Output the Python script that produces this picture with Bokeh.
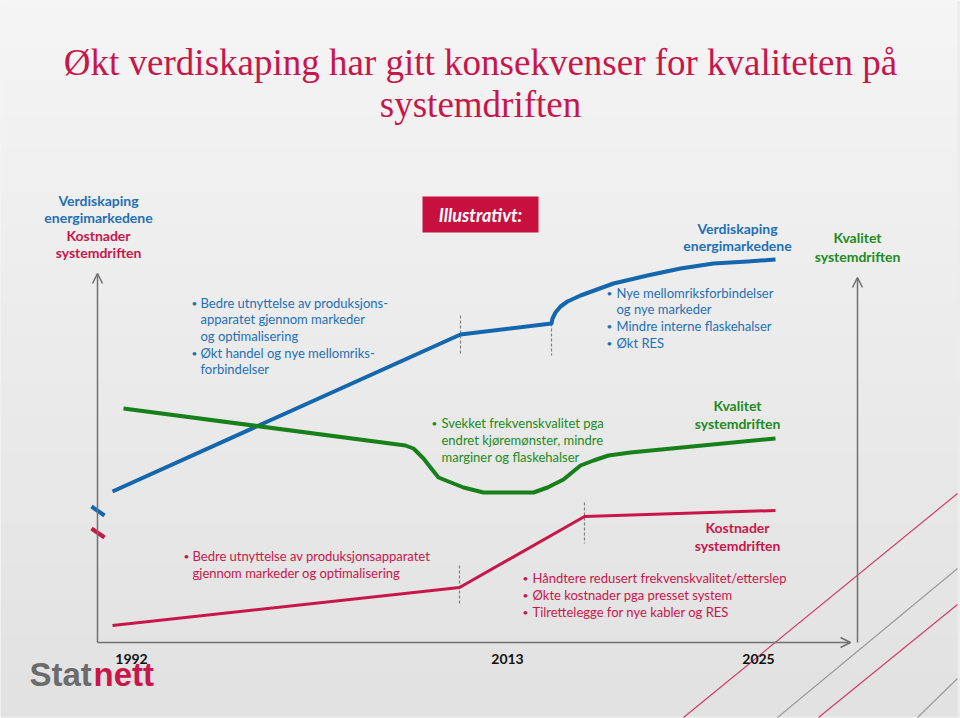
import numpy as np
from bokeh.plotting import figure
from bokeh.models import Range1d, Arrow, OpenHead
from bokeh.core.properties import value
from bokeh.embed import file_html
from bokeh.resources import INLINE

# ---- schematic series (chart units: x to the right, y downward) ----
verdiskaping_x = [112, 460, 551, 552, 555, 560, 567, 580, 613, 647, 680, 713, 747, 775]
verdiskaping_y = [491, 334, 323, 318, 312, 306, 301, 295, 283, 275, 268, 263, 261, 259]
kvalitet_x = [123, 405, 413, 423, 430, 438, 463, 483, 533, 547, 557, 563, 580, 593, 608, 630, 775]
kvalitet_y = [408, 445, 448, 458, 467, 477, 487, 492, 492, 487, 482, 479, 465, 460, 455, 452, 438]
kostnader_x = [112, 459, 584, 775]
kostnader_y = [625, 587, 516, 510]
year_labels = ["1992", "2013", "2025"]
year_x = [131, 507, 758]

BLUE_T = "#1f6fb5"
BLUE_L = "#1467ad"
GREEN_T = "#218a21"
GREEN_L = "#17801a"
RED = "#c8164a"
GRAY = "#707070"

p = figure(width=960, height=718, x_range=Range1d(0, 960), y_range=Range1d(718, 0),
           output_backend="svg", toolbar_location=None,
           x_axis_location=None, y_axis_location=None, min_border=0)
p.grid.visible = False
p.outline_line_color = None
p.background_fill_color = "#ececec"
p.border_fill_color = "#ffffff"

# background gradient
rows = 100
g = np.linspace(0xf5, 0xe2, rows).astype(np.uint32)
img = np.zeros((rows, 1), dtype=np.uint32)
img[:, 0] = (0xff << 24) | (g << 16) | (g << 8) | g
p.image_rgba(image=[img], x=0, y=0, dw=957, dh=716)

# decorative diagonal lines
p.segment(x0=[683, 818], y0=[717, 717], x1=[957, 957], y1=[493, 604], line_color=RED, line_width=1.2, line_alpha=0.8)
p.segment(x0=[777, 917], y0=[717, 717], x1=[957, 957], y1=[568, 678], line_color="#8a8a8a", line_width=1.2, line_alpha=0.8)


def txt(xs, ys, texts, color, size, style="normal", align="left", font="Lato", baseline="middle"):
    p.text(x=xs, y=ys, text=texts, text_color=color, text_font=value(font),
           text_font_size=f"{size}px", text_font_style=style,
           text_align=align, text_baseline=baseline)


# title
txt([480, 480], [62, 104], ["Økt verdiskaping har gitt konsekvenser for kvaliteten på", "systemdriften"],
    RED, 37, align="center", font="Liberation Serif", baseline="alphabetic")

# axes
hd = dict(size=10, line_color=GRAY, line_width=1.5)
p.add_layout(Arrow(end=OpenHead(**hd), x_start=97, y_start=642, x_end=97, y_end=273, line_color=GRAY, line_width=1.5))
p.add_layout(Arrow(end=OpenHead(**hd), x_start=97, y_start=642, x_end=850, y_end=642, line_color=GRAY, line_width=1.5))
p.add_layout(Arrow(end=OpenHead(**hd), x_start=857, y_start=642, x_end=857, y_end=277, line_color=GRAY, line_width=1.5))

# axis break marks
p.segment(x0=[91], y0=[506], x1=[104], y1=[515], line_color=BLUE_L, line_width=4)
p.segment(x0=[91], y0=[528], x1=[104], y1=[537], line_color=RED, line_width=4)

# dashed phase markers
p.segment(x0=[460, 551, 584, 459], y0=[315, 323, 502, 565], x1=[460, 551, 584, 459], y1=[355, 355, 543, 605],
          line_color="#808080", line_width=1.2, line_dash="3 2")

# series
p.line(verdiskaping_x, verdiskaping_y, line_color=BLUE_L, line_width=4, line_join="round")
p.line(kvalitet_x, kvalitet_y, line_color=GREEN_L, line_width=4, line_join="round")
p.line(kostnader_x, kostnader_y, line_color=RED, line_width=3, line_join="round")

# Illustrativt box
p.quad(left=[422], right=[538], top=[196], bottom=[232], fill_color="#c8103e", line_color=None)
txt([480], [214], ["Illustrativt:"], "#ffffff", 18, style="bold italic", align="center")

# axis titles
txt([98, 98], [200, 217], ["Verdiskaping", "energimarkedene"], BLUE_T, 14, "bold", "center")
txt([98, 98], [235, 252], ["Kostnader", "systemdriften"], RED, 14, "bold", "center")
txt([737, 737], [228, 245], ["Verdiskaping", "energimarkedene"], BLUE_T, 14, "bold", "center")
txt([857, 857], [237, 256], ["Kvalitet", "systemdriften"], GREEN_T, 14, "bold", "center")
txt([737, 737], [405, 423], ["Kvalitet", "systemdriften"], GREEN_T, 14, "bold", "center")
txt([737, 737], [527, 545], ["Kostnader", "systemdriften"], RED, 14, "bold", "center")

# bullets
def bullets(bx, tx, ys, lines, bullet_rows, color):
    txt([bx] * len(bullet_rows), [ys[i] for i in bullet_rows], ["•"] * len(bullet_rows), color, 10)
    txt([tx] * len(lines), ys, lines, color, 13)

bullets(191, 200, [302, 318, 335, 352, 368],
        ["Bedre utnyttelse  av produksjons-", "apparatet gjennom markeder", "og optimalisering",
         "Økt handel og nye mellomriks-", "forbindelser"], [0, 3], BLUE_T)
bullets(606, 616, [292, 308, 325, 342],
        ["Nye mellomriksforbindelser", "og nye markeder", "Mindre interne flaskehalser", "Økt RES"],
        [0, 2, 3], BLUE_T)
bullets(431, 441, [422, 439, 456],
        ["Svekket frekvenskvalitet pga", "endret kjøremønster, mindre", "marginer og flaskehalser"],
        [0], GREEN_T)
bullets(183, 192, [555, 572],
        ["Bedre utnyttelse av produksjonsapparatet", "gjennom markeder og optimalisering"], [0], RED)
bullets(522, 532, [577, 594, 611],
        ["Håndtere redusert frekvenskvalitet/etterslep", "Økte kostnader pga presset system",
         "Tilrettelegge for nye kabler og RES"], [0, 1, 2], RED)

# years
txt(year_x, [658] * 3, year_labels, "#111111", 14, "bold", "center")

# logo
txt([29], [674], ["Stat"], "#6b6b6b", 33, "bold", "left", "Liberation Sans")
txt([93], [674], ["nett"], RED, 33, "bold", "left", "Liberation Sans")

open("out.html", "w").write(file_html(p, INLINE))
